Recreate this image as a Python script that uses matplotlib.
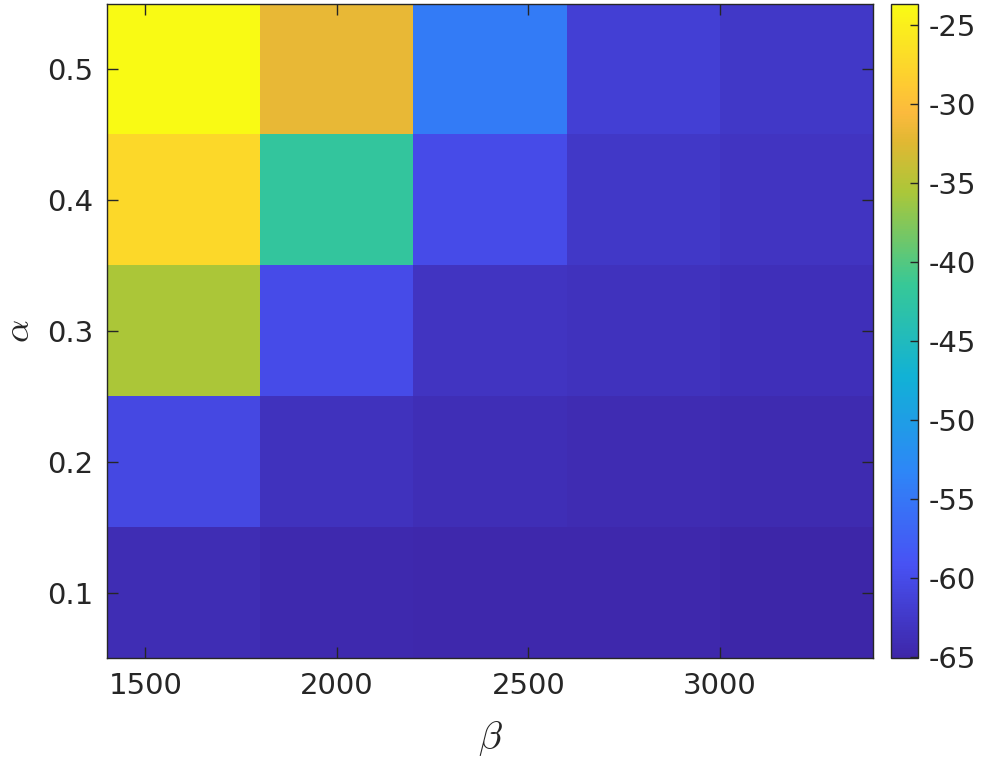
import numpy as np
import matplotlib
matplotlib.use("Agg")
import matplotlib.pyplot as plt
from matplotlib.colors import LinearSegmentedColormap

# grid values
beta = [1600, 2000, 2400, 2800, 3200]
alpha = [0.1, 0.2, 0.3, 0.4, 0.5]

# rows follow alpha (0.1 .. 0.5), columns follow beta
row_a01 = [-64.0, -64.5, -64.6, -64.7, -65.0]
row_a02 = [-60.5, -63.3, -63.8, -64.1, -64.3]
row_a03 = [-35.5, -60.0, -63.0, -63.4, -63.6]
row_a04 = [-27.3, -42.0, -60.0, -62.6, -63.0]
row_a05 = [-23.7, -31.8, -54.5, -61.5, -62.5]

xticks = [1500, 2000, 2500, 3000]
yticks = [0.1, 0.2, 0.3, 0.4, 0.5]
cticks = [-65, -60, -55, -50, -45, -40, -35, -30, -25]

# MATLAB parula, sampled (position, rgb)
parula_pts = [
    (0.000, (0.2422, 0.1504, 0.6603)),
    (0.143, (0.2810, 0.3228, 0.9579)),
    (0.286, (0.1786, 0.5289, 0.9682)),
    (0.429, (0.0689, 0.6948, 0.8394)),
    (0.571, (0.2161, 0.7843, 0.5923)),
    (0.714, (0.6720, 0.7793, 0.2227)),
    (0.790, (0.8800, 0.7200, 0.2000)),
    (0.835, (0.9850, 0.7300, 0.2400)),
    (0.875, (0.9950, 0.7900, 0.2000)),
    (1.000, (0.9769, 0.9839, 0.0805)),
]
parula = LinearSegmentedColormap.from_list("parula", parula_pts, N=256)

plt.rcParams["axes.unicode_minus"] = False
plt.rcParams["mathtext.fontset"] = "cm"

Z = np.array([row_a01, row_a02, row_a03, row_a04, row_a05])

fig = plt.figure(figsize=(9.96, 7.66), dpi=100)
ax = fig.add_axes([107 / 996, 108 / 766, 766 / 996, 654 / 766])
cax = fig.add_axes([891 / 996, 108 / 766, 27 / 996, 654 / 766])

dx = beta[1] - beta[0]
dy = alpha[1] - alpha[0]
extent = [beta[0] - dx / 2, beta[-1] + dx / 2, alpha[0] - dy / 2, alpha[-1] + dy / 2]
im = ax.imshow(Z, origin="lower", extent=extent, aspect="auto", cmap=parula,
               vmin=-65.05, vmax=-23.7, interpolation="nearest")

tick_col = "#262626"
ax.set_xticks(xticks)
ax.set_xticklabels([str(t) for t in xticks])
ax.set_yticks(yticks)
ax.set_yticklabels([f"{t:.1f}" for t in yticks])
ax.tick_params(direction="in", top=True, right=True, length=8, width=1,
               labelsize=21, colors=tick_col, pad=10)
for s in ax.spines.values():
    s.set_color(tick_col)
    s.set_linewidth(1)

ax.set_xlabel(r"$\beta$", fontsize=28, color=tick_col, labelpad=14)
ax.set_ylabel(r"$\alpha$", fontsize=26, color=tick_col, labelpad=8)

cb = fig.colorbar(im, cax=cax)
cb.set_ticks(cticks)
cb.ax.tick_params(direction="in", length=6, width=1, labelsize=21,
                  colors=tick_col, pad=8)
cb.outline.set_edgecolor(tick_col)
cb.outline.set_linewidth(1)

fig.savefig("out.png", dpi=100)
